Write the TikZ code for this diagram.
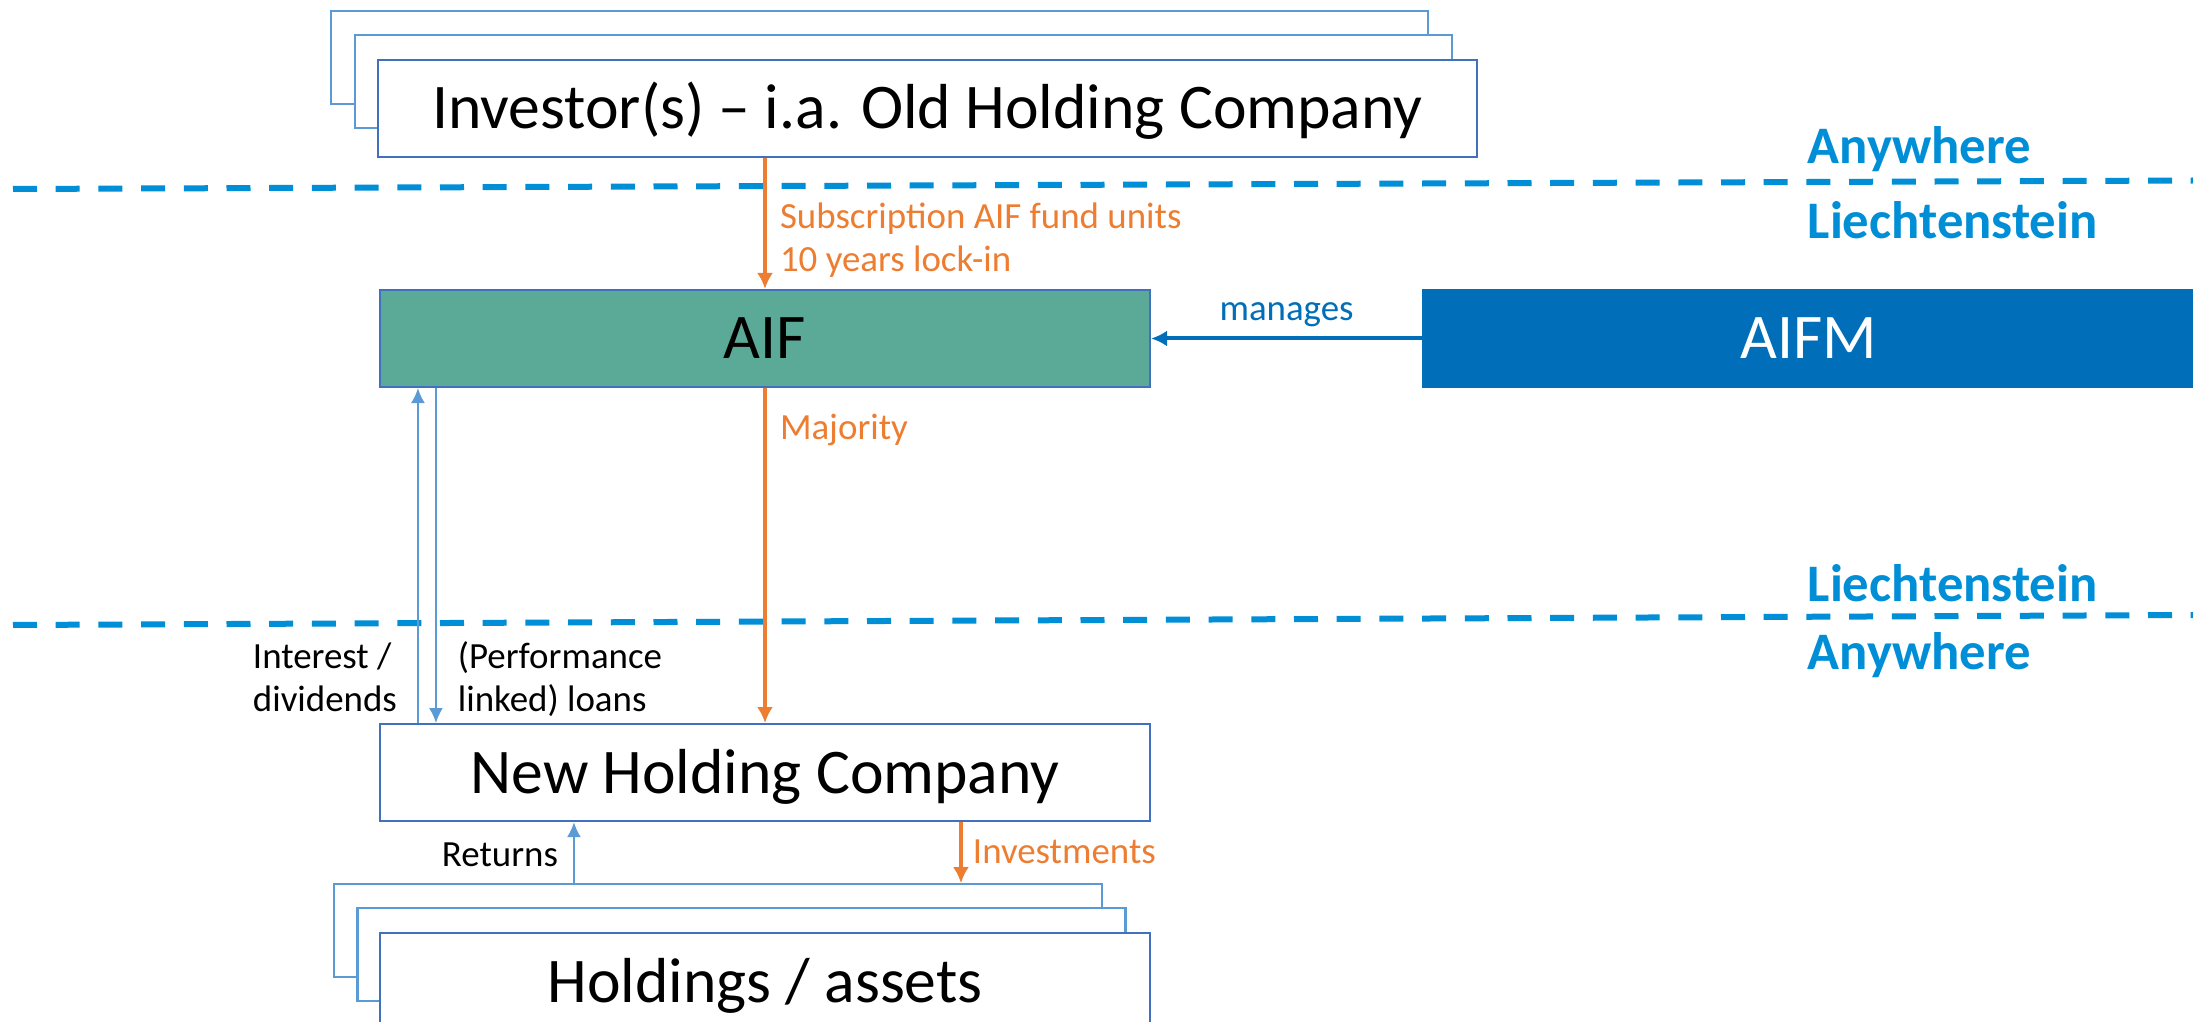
\documentclass[tikz,border=0pt]{standalone}
\usepackage{fontspec}
\setmainfont{Carlito}
\usepackage{xcolor}
\usepackage{tikz}
\usetikzlibrary{positioning,arrows.meta,backgrounds}

\definecolor{boxblue}{RGB}{65,113,190}
\definecolor{stackblue}{RGB}{91,155,213}
\definecolor{zoneblue}{RGB}{0,143,214}
\definecolor{aifmblue}{RGB}{0,110,184}
\definecolor{aifgreen}{RGB}{91,170,152}
\definecolor{floworange}{RGB}{237,125,49}

\begin{document}
\begin{tikzpicture}[node distance=2cm, auto,
	box/.style={rectangle, draw=boxblue, line width=0.6pt, fill=white, minimum width=7.7cm, minimum height=0.97cm, inner sep=0pt, text height=0.41cm, text depth=0cm, font=\fontsize{18.1}{21}\selectfont},
	backbox/.style={rectangle, draw=stackblue, line width=0.6pt, fill=white, minimum width=7.68cm, minimum height=0.93cm, inner sep=0pt},
	zoneline/.style={draw=zoneblue, line width=0.06cm, dash pattern=on 0.24cm off 0.187cm},
	zonetext/.style={anchor=base west, inner sep=0pt, text=zoneblue, font=\fontsize{15}{18}\selectfont\bfseries},
	flowarrow/.style={-{Latex[length=0.16cm, width=0.16cm]}, draw=floworange, line width=0.04cm},
	linkarrow/.style={-{Latex[length=0.15cm, width=0.14cm]}, draw=stackblue, line width=0.02cm},
	label/.style={inner ysep=0pt, inner xsep=0.13cm, align=left, font=\fontsize{10.5}{12.4}\selectfont}]

	\useasboundingbox (0,0) rectangle (21.93,-10.22);
	\clip (0,0) rectangle (21.93,-10.22);

	% borders between the zones
	\draw[zoneline] (0.13,-1.89) -- (21.93,-1.805);
	\draw[zoneline] (0.13,-6.25) -- (21.93,-6.15);
	\node[zonetext] (zone1) at (18.07,-1.633) {Anywhere};
	\node[zonetext] (zone2) at (18.07,-2.383) {Liechtenstein};
	\node[zonetext] (zone3) at (18.07,-6.01) {Liechtenstein};
	\node[zonetext] (zone4) at (18.07,-6.693) {Anywhere};

	% boxes
	\node[box, fill=aifgreen] (aif) at (7.65,-3.385) {AIF};
	\node[box, draw=aifmblue, fill=aifmblue, text=white, minimum width=7.72cm, right=2.71cm of aif] (aifm) {AIFM};
	\node[box, minimum width=10.99cm, above=1.31cm of aif.north west, anchor=south west, xshift=-0.02cm] (inv) {Investor(s) – i.a. Old Holding Company};
	\node[box, below=3.35cm of aif] (nhc) {New Holding Company};
	\node[box, below=1.1cm of nhc] (hold) {Holdings / assets};

	\begin{scope}[on background layer]
		\fill[white] (0,0) rectangle (21.93,-10.22);
		\node[backbox, minimum width=10.97cm] (inv1) at ([shift={(-0.48,0.51)}]inv.center) {};
		\node[backbox, minimum width=10.97cm] (inv2) at ([shift={(-0.24,0.27)}]inv.center) {};
		\node[backbox] (hold1) at ([shift={(-0.47,0.51)}]hold.center) {};
		\node[backbox] (hold2) at ([shift={(-0.235,0.27)}]hold.center) {};
	\end{scope}

	% flows
	\draw[flowarrow] (aif.north |- inv.south) -- node[label, text=floworange, pos=0.868, anchor=base west] {Subscription AIF fund units\\10 years lock-in} (aif.north);
	\draw[flowarrow] (aif.south) -- node[label, text=floworange, pos=0.155, anchor=base west] {Majority} (nhc.north);
	\draw[flowarrow, draw=aifmblue] (aifm.west) -- node[label, text=aifmblue, above, inner ysep=0.1cm] {manages} (aif.east);

	\draw[linkarrow] ([xshift=0.39cm]nhc.north west) -- node[label, pos=0.034, anchor=base east, inner xsep=0.2cm] {Interest /\\dividends} ([xshift=0.39cm]aif.south west);
	\draw[linkarrow] ([xshift=0.57cm]aif.south west) -- node[label, pos=0.966, anchor=base west, inner xsep=0.21cm] {(Performance\\linked) loans} ([xshift=0.57cm]nhc.north west);

	\coordinate (ret) at ([xshift=1.95cm]nhc.south west);
	\coordinate (out) at ([xshift=5.82cm]nhc.south west);
	\draw[linkarrow] (ret |- hold1.north) -- node[label, pos=0.27, anchor=base east, inner xsep=0.15cm] {Returns} (ret);
	\draw[flowarrow] (out) -- node[label, text=floworange, pos=0.68, anchor=base west, inner xsep=0.1cm] {Investments} (out |- hold1.north);

\end{tikzpicture}
\end{document}
